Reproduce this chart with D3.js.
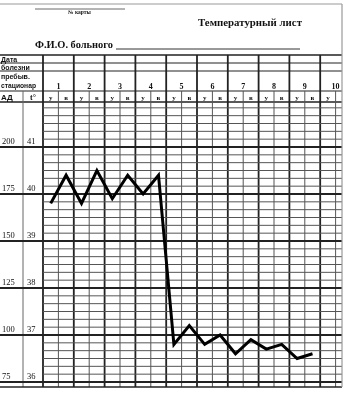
<!DOCTYPE html>
<html><head><meta charset="utf-8">
<script src="https://cdn.jsdelivr.net/npm/d3@7/dist/d3.min.js"></script>
<style>html,body{margin:0;padding:0;background:#fff;overflow:hidden}svg{display:block;will-change:transform}</style>
</head><body>
<script>
// ---- data ----
const days = ["1","2","3","4","5","6","7","8","9","10"];
const slots = ["у","в"];
const temps = [39.8, 40.4, 39.8, 40.5, 39.9, 40.4, 40.0, 40.4, 36.8, 37.2, 36.8, 37.0, 36.6, 36.9, 36.7, 36.8, 36.5, 36.6];
const adTicks = [200, 175, 150, 125, 100, 75];
const tTicks = [41, 40, 39, 38, 37, 36];
const rowLabels = ["Дата", "болезни", "пребыв.", "стационар"];

const W = 347, H = 393;
const svg = d3.select("body").append("svg").attr("width", W).attr("height", H);

const x = d3.scaleLinear().domain([0, 10]).range([43, 351]);
const y = d3.scaleLinear().domain([36, 41]).range([382, 147]);
const gridTop = 102, gridBot = 387, gridRight = 342;

svg.append("defs").append("clipPath").attr("id", "c")
  .append("rect").attr("x", 0).attr("y", 0).attr("width", gridRight).attr("height", H);
const g = svg.append("g").attr("clip-path", "url(#c)");

const dark = "#222", thin = "#555";

// outer frame
svg.append("line").attr("x1", 0).attr("x2", gridRight).attr("y1", 4).attr("y2", 4).attr("stroke", "#999").attr("stroke-width", 1.2);
svg.append("line").attr("x1", gridRight).attr("x2", gridRight).attr("y1", 4).attr("y2", gridBot).attr("stroke", "#999").attr("stroke-width", 1.2);

// card number line
svg.append("line").attr("x1", 35).attr("x2", 125).attr("y1", 9).attr("y2", 9).attr("stroke", "#444").attr("stroke-width", 0.8);
svg.append("text").attr("x", 68).attr("y", 14).text("№ карты")
  .attr("font-family", "Liberation Serif").attr("font-weight", "bold").attr("font-size", 5.5).attr("fill", "#111");

svg.append("text").attr("x", 198).attr("y", 26).text("Температурный лист")
  .attr("font-family", "Liberation Serif").attr("font-weight", "bold").attr("font-size", 10.5)
  .attr("textLength", 104).attr("lengthAdjust", "spacingAndGlyphs").attr("fill", "#111");
svg.append("text").attr("x", 35).attr("y", 48).text("Ф.И.О. больного")
  .attr("font-family", "Liberation Serif").attr("font-weight", "bold").attr("font-size", 10.5)
  .attr("textLength", 78).attr("lengthAdjust", "spacingAndGlyphs").attr("fill", "#111");
svg.append("line").attr("x1", 116).attr("x2", 300).attr("y1", 49).attr("y2", 49).attr("stroke", "#333").attr("stroke-width", 1);

// header horizontal lines
[55, 63, 71, 91, gridTop].forEach(v => {
  g.append("line").attr("x1", 0).attr("x2", gridRight).attr("y1", v).attr("y2", v)
    .attr("stroke", dark).attr("stroke-width", v === 55 || v === gridTop ? 1.6 : 1.1);
});

// header row labels
const rl = [[1, 61.5, 0], [1, 69.5, 0], [1, 79, 0], [1, 88, 35]];
rowLabels.forEach((t, i) => {
  const tx = g.append("text").attr("x", rl[i][0]).attr("y", rl[i][1]).text(t)
    .attr("font-family", "Liberation Sans").attr("font-weight", "bold").attr("font-size", 7).attr("fill", "#111");
  if (rl[i][2]) tx.attr("textLength", rl[i][2]).attr("lengthAdjust", "spacingAndGlyphs");
});
g.append("text").attr("x", 1).attr("y", 100).text("АД")
  .attr("font-family", "Liberation Sans").attr("font-weight", "bold").attr("font-size", 8).attr("fill", "#111");
g.append("text").attr("x", 30).attr("y", 99.5).text("t°")
  .attr("font-family", "Liberation Serif").attr("font-weight", "bold").attr("font-size", 8).attr("fill", "#111");

// vertical lines: day boundaries (heavy) and half-day (thin)
d3.range(0, 11).forEach(d => {
  g.append("line").attr("x1", x(d)).attr("x2", x(d)).attr("y1", 55).attr("y2", gridBot)
    .attr("stroke", dark).attr("stroke-width", 1.8);
});
d3.range(0, 10).forEach(d => {
  g.append("line").attr("x1", x(d + 0.5)).attr("x2", x(d + 0.5)).attr("y1", 91).attr("y2", gridBot)
    .attr("stroke", thin).attr("stroke-width", 1);
});
g.append("line").attr("x1", 23).attr("x2", 23).attr("y1", 91).attr("y2", gridBot).attr("stroke", "#666").attr("stroke-width", 1);

// horizontal grid: thin sub-degree lines, heavy degree lines
const sub = [];
for (let t = 35; t <= 42.01; t += 1 / 6) sub.push(t);
sub.forEach(t => {
  const yy = y(t);
  if (yy <= gridTop + 2 || yy >= gridBot - 1) return;
  g.append("line").attr("x1", x(0)).attr("x2", gridRight).attr("y1", yy).attr("y2", yy)
    .attr("stroke", thin).attr("stroke-width", 1);
});
tTicks.forEach(t => {
  g.append("line").attr("x1", 0).attr("x2", gridRight).attr("y1", y(t)).attr("y2", y(t))
    .attr("stroke", dark).attr("stroke-width", 1.8);
});
g.append("line").attr("x1", 0).attr("x2", gridRight).attr("y1", gridBot).attr("y2", gridBot)
  .attr("stroke", dark).attr("stroke-width", 1.6);

// day numbers and slot labels
days.forEach((d, i) => {
  g.append("text").attr("x", x(i + 0.5)).attr("y", 89).text(d).attr("text-anchor", "middle")
    .attr("font-family", "Liberation Serif").attr("font-weight", "bold").attr("font-size", 8).attr("fill", "#111");
  slots.forEach((s, j) => {
    g.append("text").attr("x", x(i + 0.25 + j * 0.5)).attr("y", 99.5).text(s).attr("text-anchor", "middle")
      .attr("font-family", "Liberation Serif").attr("font-weight", "bold").attr("font-size", 7).attr("fill", "#111");
  });
});

// axis labels
adTicks.forEach((v, i) => {
  g.append("text").attr("x", 2).attr("y", y(tTicks[i]) - 3).text(v)
    .attr("font-family", "Liberation Serif").attr("font-size", 8.5).attr("fill", "#111");
  g.append("text").attr("x", 27).attr("y", y(tTicks[i]) - 3).text(tTicks[i])
    .attr("font-family", "Liberation Serif").attr("font-size", 8.5).attr("fill", "#111");
});

// temperature line
const line = d3.line().x((d, i) => x(i / 2 + 0.25)).y(d => y(d));
g.append("path").datum(temps).attr("d", line).attr("fill", "none")
  .attr("stroke", "#000").attr("stroke-width", 3).attr("stroke-linejoin", "miter");
</script>
</body></html>
